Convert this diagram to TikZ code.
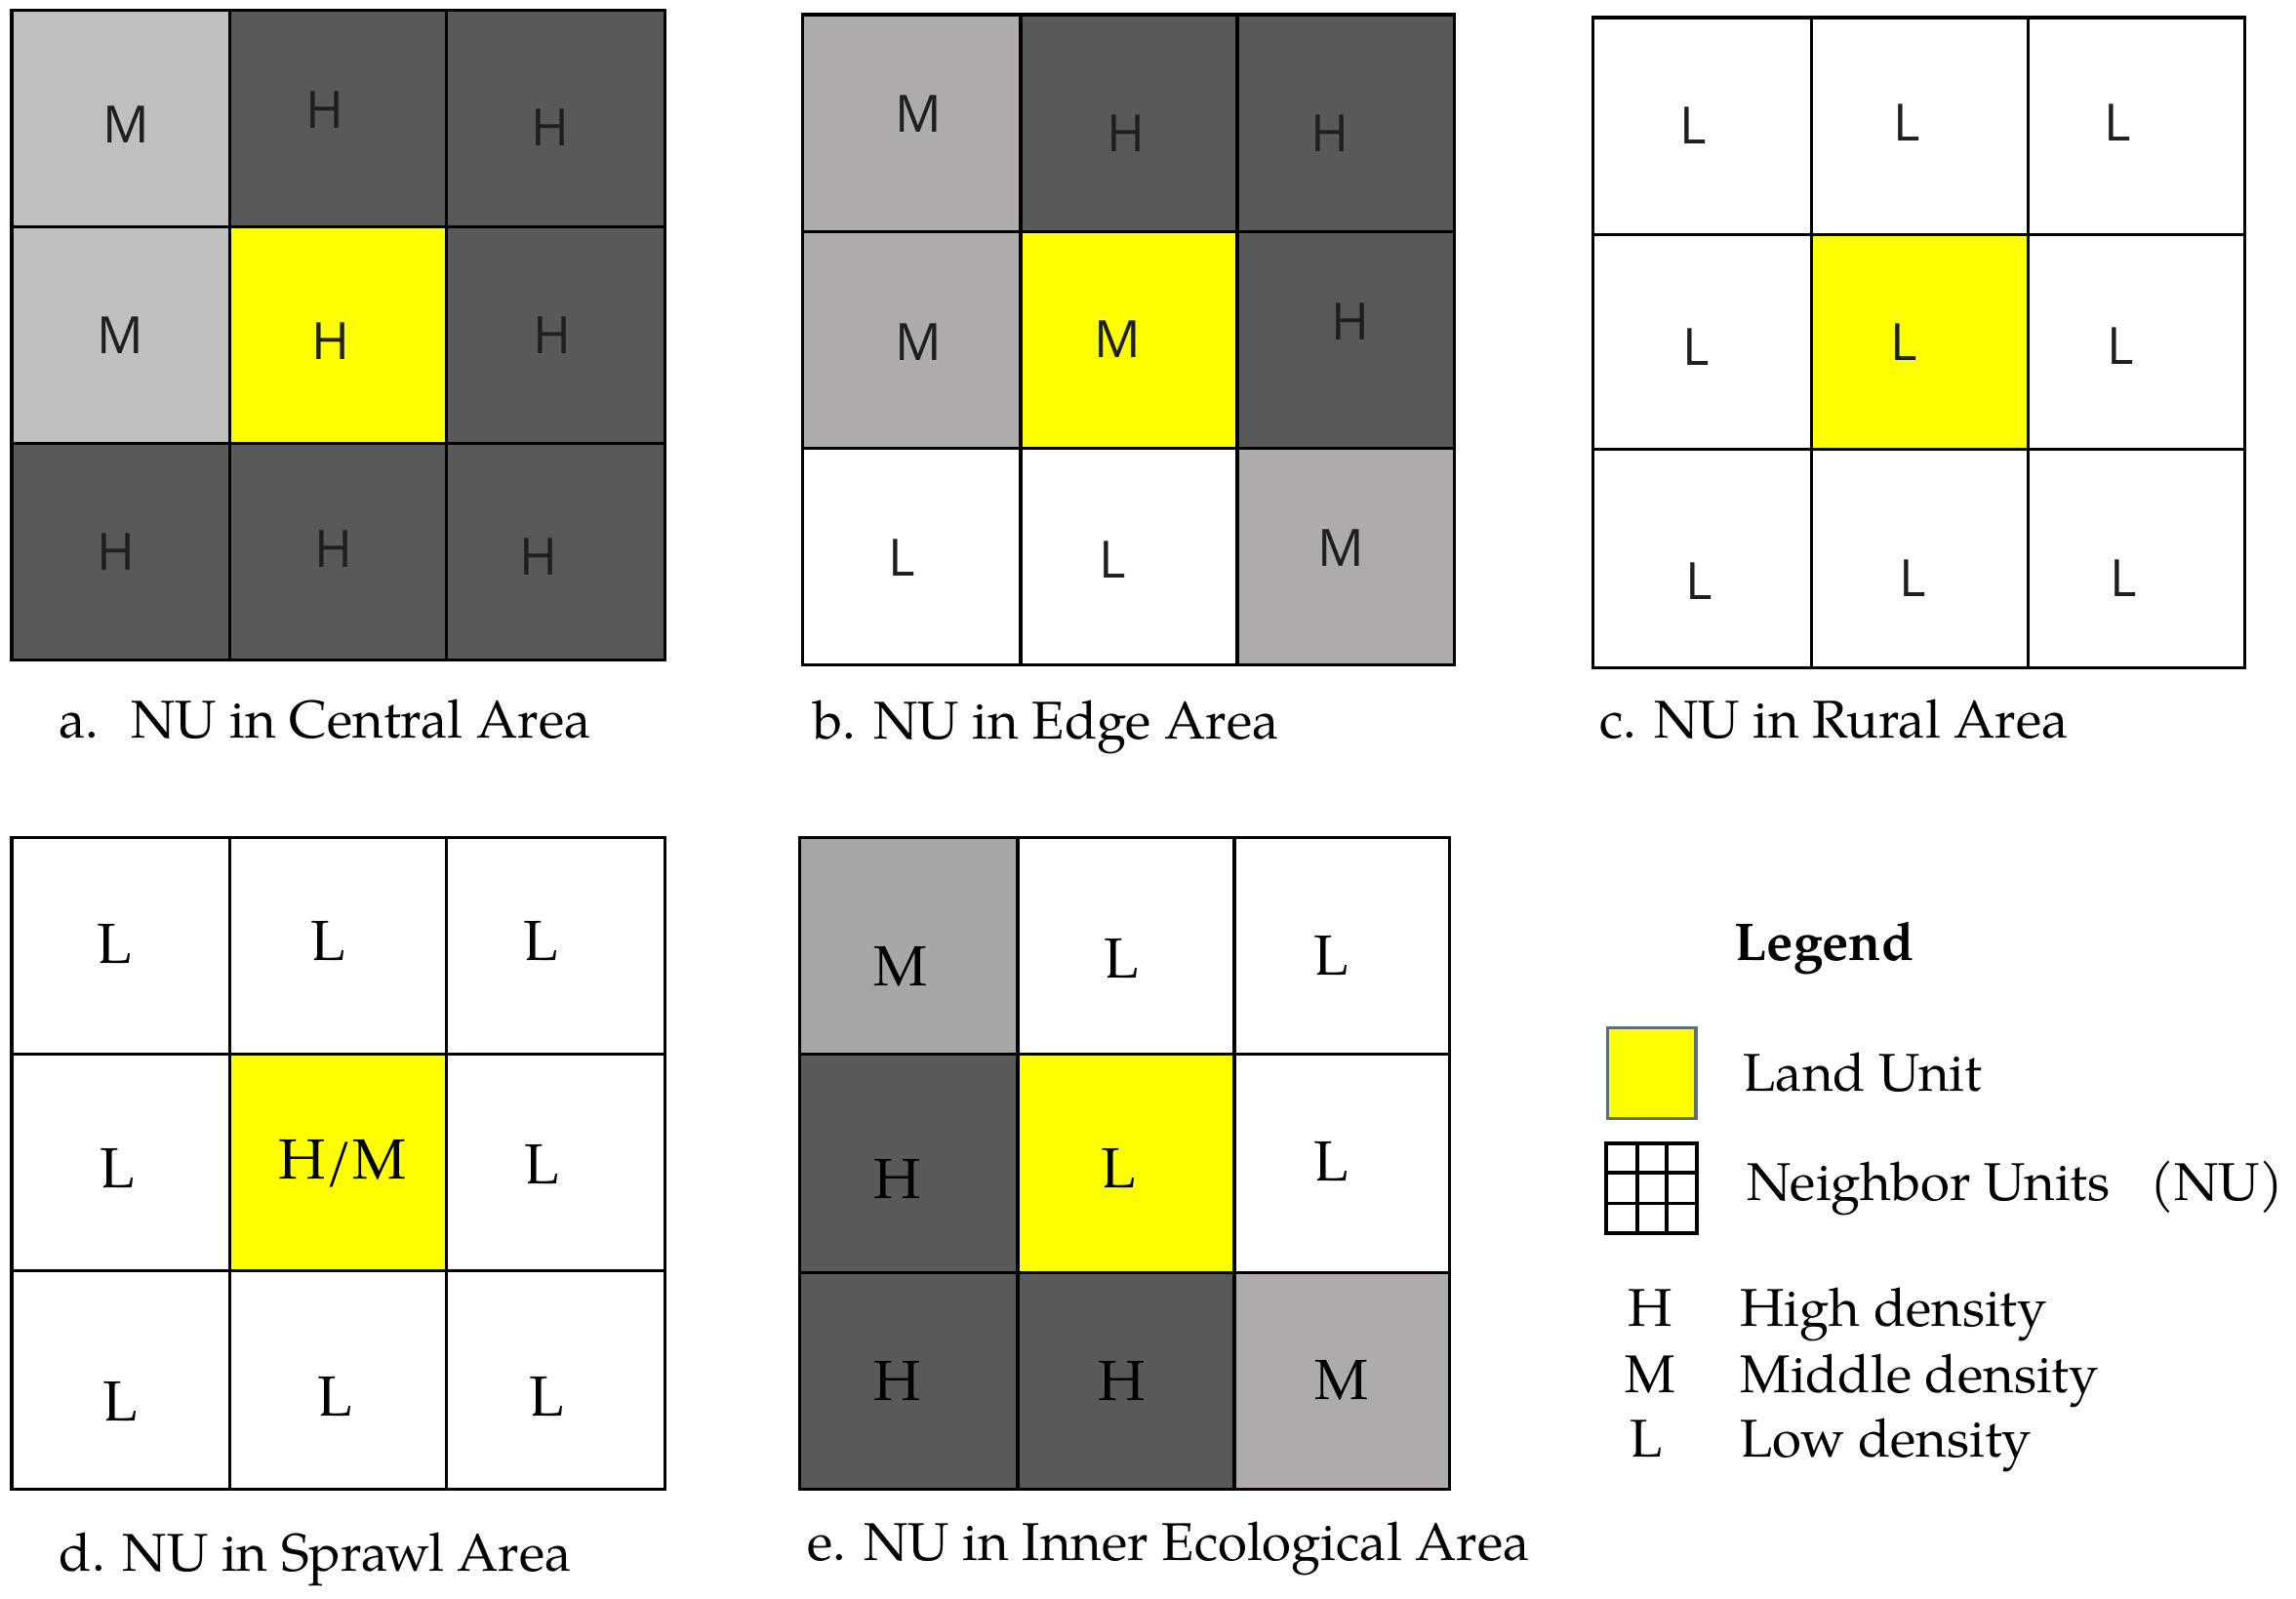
\documentclass[tikz,border=0pt]{standalone}
\usepackage{fontspec}
\setmainfont{TeX Gyre Pagella}
\newfontfamily\gsans{Open Sans}
\definecolor{hi}{HTML}{595959}
\definecolor{miA}{HTML}{BFBFBF}
\definecolor{miB}{HTML}{AFABAB}
\definecolor{miE}{HTML}{A6A6A6}
\definecolor{lu}{HTML}{FFFF00}
\definecolor{luedge}{HTML}{5E6E75}
\newcommand\nuframe[8]{%
  \draw[gridline] (#1,#5) rectangle (#4,#8);
  \draw[gridline] (#2,#5)--(#2,#8) (#3,#5)--(#3,#8) (#1,#6)--(#4,#6) (#1,#7)--(#4,#7);}
\newcommand\cellfill[5]{\fill[#1] (#2,#3) rectangle (#4,#5);}
\begin{document}
\begin{tikzpicture}[x=0.015006cm,y=-0.015006cm,
  gridline/.style={line width=0.9pt,black},
  sl/.style={font=\gsans\fontsize{15}{18}\selectfont,text=black!88,inner sep=0pt},
  rl/.style={font=\fontsize{16.5}{19}\selectfont,inner sep=0pt},
  capt/.style={font=\fontsize{15.5}{18}\selectfont,anchor=base west,inner sep=0pt},
  leg/.style={font=\fontsize{15.5}{18}\selectfont,anchor=base west,inner sep=0pt}]
\useasboundingbox (0,0) rectangle (1568,1092);
\fill[white] (0,0) rectangle (1568,1092);

% ---------- a ----------
\cellfill{miA}{8}{7}{157}{155}
\cellfill{hi}{157}{7}{305}{155}
\cellfill{hi}{305}{7}{454}{155}
\cellfill{miA}{8}{155}{157}{303}
\cellfill{lu}{157}{155}{305}{303}
\cellfill{hi}{305}{155}{454}{303}
\cellfill{hi}{8}{303}{454}{451}
\nuframe{8}{157}{305}{454}{7}{155}{303}{451}
\node[sl] (a11) at (86,85) {M};
\node[sl] (a12) at (222,75) {H};
\node[sl] (a13) at (376,87) {H};
\node[sl] (a21) at (82,229) {M};
\node[sl] (a22) at (226,233) {H};
\node[sl] (a23) at (377,229) {H};
\node[sl] (a31) at (79,377) {H};
\node[sl] (a32) at (228,375) {H};
\node[sl] (a33) at (368,380) {H};
\node[capt] (capa) at (40,504) {a.\hspace{0.6em}NU in Central Area};

% ---------- b ----------
\cellfill{miB}{548}{10}{697}{158}
\cellfill{hi}{697}{10}{993}{158}
\cellfill{miB}{548}{158}{697}{306}
\cellfill{lu}{697}{158}{845}{306}
\cellfill{hi}{845}{158}{993}{306}
\cellfill{white}{548}{306}{845}{454}
\cellfill{miB}{845}{306}{993}{454}
\nuframe{548}{697}{845}{993}{10}{158}{306}{454}
\node[sl] (b11) at (627,78) {M};
\node[sl] (b12) at (769,91) {H};
\node[sl] (b13) at (908,91) {H};
\node[sl] (b21) at (627,234) {M};
\node[sl] (b22) at (763,232) {M};
\node[sl] (b23) at (922,220) {H};
\node[sl] (b31) at (616,381) {L};
\node[sl] (b32) at (760,382) {L};
\node[sl] (b33) at (916,374) {M};
\node[capt] (capb) at (555,505) {b. NU in Edge Area};

% ---------- c ----------
\cellfill{lu}{1237}{160}{1385}{307}
\nuframe{1088}{1237}{1385}{1533}{12}{160}{307}{456}
\node[sl] (c11) at (1156,86) {L};
\node[sl] (c12) at (1302,84) {L};
\node[sl] (c13) at (1446,84) {L};
\node[sl] (c21) at (1158,237) {L};
\node[sl] (c22) at (1300,234) {L};
\node[sl] (c23) at (1448,236) {L};
\node[sl] (c31) at (1160,397) {L};
\node[sl] (c32) at (1306,395) {L};
\node[sl] (c33) at (1450,395) {L};
\node[capt] (capc) at (1092,504) {c. NU in Rural Area};

% ---------- d ----------
\cellfill{lu}{157}{720}{305}{868}
\nuframe{8}{157}{305}{454}{572}{720}{868}{1017}
\node[rl] (d11) at (78,645) {L};
\node[rl] (d12) at (224,643) {L};
\node[rl] (d13) at (369,643) {L};
\node[rl] (d21) at (80,798) {L};
\node[rl] (d22) at (234,795) {H/M};
\node[rl] (d23) at (370,795) {L};
\node[rl] (d31) at (82,957) {L};
\node[rl] (d32) at (229,954) {L};
\node[rl] (d33) at (373,954) {L};
\node[capt] (capd) at (40,1073) {d. NU in Sprawl Area};

% ---------- e ----------
\cellfill{miE}{546}{572}{695}{720}
\cellfill{hi}{546}{720}{695}{869}
\cellfill{lu}{695}{720}{843}{869}
\cellfill{hi}{546}{869}{843}{1017}
\cellfill{miB}{843}{869}{990}{1017}
\nuframe{546}{695}{843}{990}{572}{720}{869}{1017}
\node[rl] (e11) at (615,660) {M};
\node[rl] (e12) at (766,655) {L};
\node[rl] (e13) at (909,653) {L};
\node[rl] (e21) at (613,805) {H};
\node[rl] (e22) at (764,798) {L};
\node[rl] (e23) at (909,793) {L};
\node[rl] (e31) at (613,943) {H};
\node[rl] (e32) at (766,943) {H};
\node[rl] (e33) at (916,943) {M};
\node[capt] (cape) at (551,1066) {e. NU in Inner Ecological Area};

% ---------- legend ----------
\node[leg,font=\bfseries\fontsize{15.5}{18}\selectfont] (legt) at (1184,656) {Legend};
\draw[fill=lu,draw=luedge,line width=1pt] (1098,702) rectangle (1158,764);
\node[leg] (legland) at (1190,745) {Land Unit};
\draw[line width=1.1pt] (1097,781) rectangle (1159,842);
\draw[line width=1.1pt] (1118,781)--(1118,842) (1138,781)--(1138,842)
  (1097,801)--(1159,801) (1097,822)--(1159,822);
\node[leg] (legnu) at (1193,820) {Neighbor Units\hspace{0.75em}(NU)};
\node[leg,anchor=base] (lh) at (1127,906) {H};
\node[leg] (lht) at (1188,906) {High density};
\node[leg,anchor=base] (lm) at (1127,951) {M};
\node[leg] (lmt) at (1188,951) {Middle density};
\node[leg,anchor=base] (ll) at (1124,995) {L};
\node[leg] (llt) at (1188,995) {Low density};
\end{tikzpicture}
\end{document}
